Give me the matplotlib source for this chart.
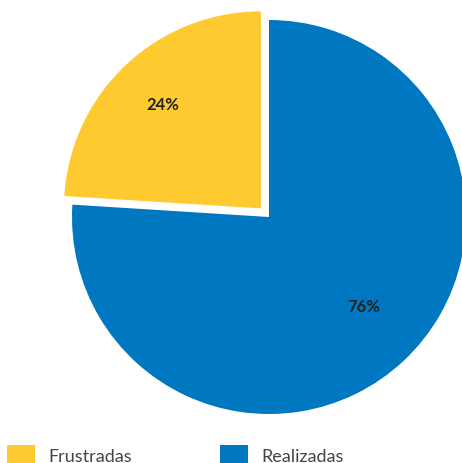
import matplotlib
matplotlib.use("Agg")
import numpy as np
import matplotlib.pyplot as plt
from matplotlib.patches import Patch

# 데이터
categories = ["Realizadas", "Frustradas"]
values = [76, 24]
colors = ["#0077C1", "#FFCA30"]
legend_order = ["Frustradas", "Realizadas"]

plt.rcParams["font.family"] = ["Lato", "DejaVu Sans"]

fig = plt.figure(figsize=(4.62, 4.64), dpi=100)
ax = fig.add_axes([0, 0, 1, 1])

wedges, texts, autotexts = ax.pie(
    values,
    colors=colors,
    startangle=90,
    counterclock=False,
    explode=[0, 0.06],
    autopct="%d%%",
    radius=1,
    wedgeprops=dict(linewidth=0),
)

# 라벨 위치 조정 (조각별 거리, 각도 보정)
label_dist = [0.66, 0.73]
label_rot = [3.5, 0]
for w, t, d, r in zip(wedges, autotexts, label_dist, label_rot):
    ang = np.deg2rad((w.theta1 + w.theta2) / 2 + r)
    cx, cy = w.center
    t.set_position((cx + d * np.cos(ang), cy + d * np.sin(ang)))
    t.set_color("#222222")
    t.set_fontweight("bold")
    t.set_fontsize(12)

# 뷰 범위 (파이 중심 위치 맞추기)
ax.set_xlim(-1.3655, 0.9797)
ax.set_ylim(-1.2487, 1.1066)
ax.set_aspect("equal")
ax.axis("off")

# 범례
color_map = dict(zip(categories, colors))
handles = [Patch(facecolor=color_map[c], edgecolor="none", label=c) for c in legend_order]
fig.legend(
    handles=handles,
    loc="upper left",
    bbox_to_anchor=(7 / 462, 1 - 446 / 464),
    ncol=2,
    frameon=False,
    fontsize=13,
    handlelength=1.55,
    handleheight=1.3,
    handletextpad=0.72,
    columnspacing=4.9,
    borderpad=0,
    borderaxespad=0,
    labelcolor="#444444",
)

fig.savefig("out.png", dpi=100)
